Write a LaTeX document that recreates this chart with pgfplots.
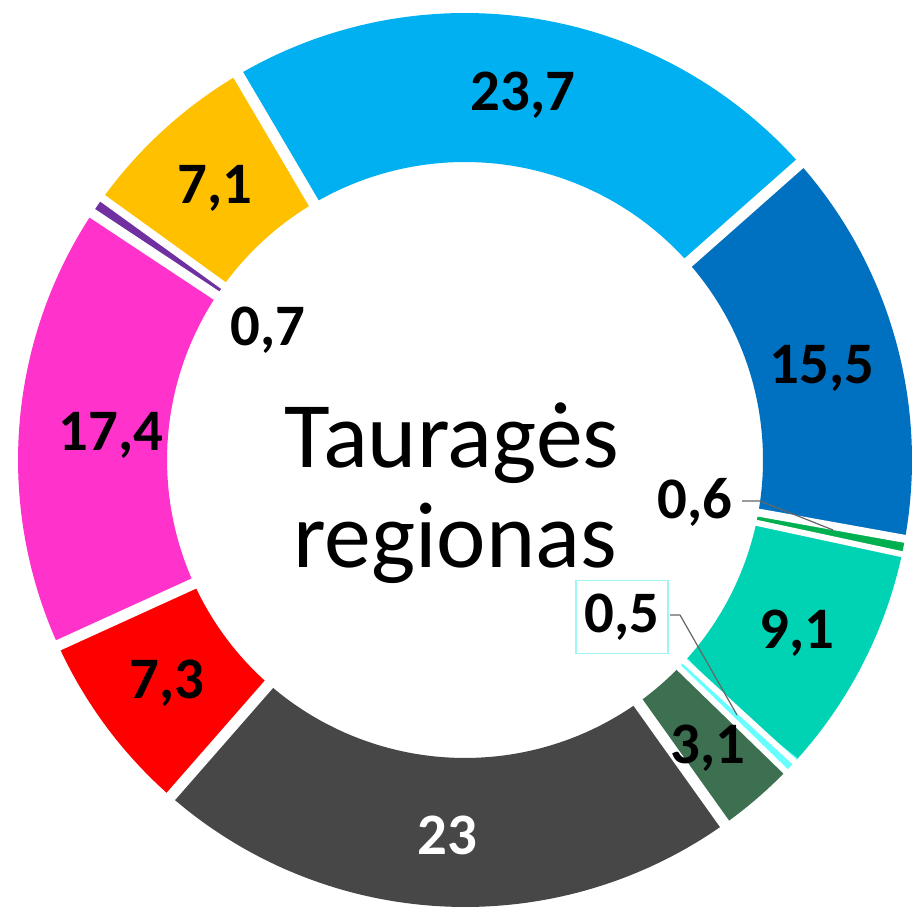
\documentclass[border=0pt]{standalone}
\usepackage{fontspec}
\setmainfont{Carlito}
\usepackage{pgfplots}
\pgfplotsset{compat=1.18}

\definecolor{cLightBlue}{HTML}{00B0F0}
\definecolor{cDarkBlue}{HTML}{0070C0}
\definecolor{cGreen}{HTML}{00B050}
\definecolor{cTeal}{HTML}{00D2B4}
\definecolor{cCyan}{HTML}{66FFFF}
\definecolor{cDarkGreen}{HTML}{3D7050}
\definecolor{cGray}{HTML}{474747}
\definecolor{cRed}{HTML}{FF0000}
\definecolor{cMagenta}{HTML}{FF33CC}
\definecolor{cPurple}{HTML}{7030A0}
\definecolor{cAmber}{HTML}{FFC000}
\definecolor{cBox}{HTML}{9FF5F5}

% running start angle of the next slice (degrees, clockwise)
\newcommand\acur{120.5}
\newcommand\total{108}
% #1 = value, #2 = colour, #3 = width of the white gap before this slice
\newcommand{\slice}[3]{%
  \pgfmathsetmacro{\aend}{\acur-#1*360/\total}%
  \edef\doplot{%
    \noexpand\addplot[draw=#2, line width=74.5bp, line join=round,
      domain=\aend:\acur, samples=90] ({0.8333*cos(x)},{0.8333*sin(x)});
    \noexpand\addplot[draw=white, line width=#3bp, domain=0.6:1.06, samples=2]
      ({x*cos(\acur)},{x*sin(\acur)});
  }%
  \doplot
  \xdef\acur{\aend}%
}
\newcommand\lbl{\bfseries\fontsize{29.5}{30}\selectfont}
\newcommand\ctr{\fontsize{47}{48}\selectfont}

\begin{document}
\begin{tikzpicture}
\begin{axis}[
  x=223.5bp, y=223.5bp,
  xmin=-1.0403, xmax=1.0246, ymin=-1.0336, ymax=1.0291,
  axis lines=box, axis line style={draw=none},
  xtick=\empty, ytick=\empty,
  no markers,
]
\slice{23.7}{cLightBlue}{5.5}
\slice{15.5}{cDarkBlue}{5.5}
\slice{0.6}{cGreen}{4}
\slice{9.1}{cTeal}{3}
\slice{0.5}{cCyan}{3}
\slice{3.1}{cDarkGreen}{3}
\slice{23}{cGray}{5.5}
\slice{7.3}{cRed}{5.5}
\slice{17.4}{cMagenta}{5.5}
\slice{0.7}{cPurple}{5}
\slice{7.1}{cAmber}{4}
% closing separator at the first slice's start
\addplot[draw=white, line width=5.5bp, domain=0.6:1.06, samples=2]
  ({x*cos(120.5)},{x*sin(120.5)});

% leader lines
\addplot[draw=black!60, line width=0.6bp] coordinates {(0.6197,-0.0917) (0.66,-0.0917) (0.8233,-0.1566)};
\addplot[draw=black!60, line width=0.6bp] coordinates {(0.4586,-0.3468) (0.481,-0.3468) (0.6085,-0.5705)};

% data labels
\node[font=\lbl] at (axis cs:0.1298,0.8166) {23,7};
\node[font=\lbl] at (axis cs:0.7987,0.2058) {15,5};
\node[font=\lbl] at (axis cs:0.5145,-0.094) {0,6};
\node[font=\lbl] at (axis cs:0.7427,-0.387) {9,1};
\node[font=\lbl, draw=cBox, line width=0.8bp, minimum width=46bp, minimum height=36.5bp, inner sep=0pt, fill=white] at (axis cs:0.3512,-0.3512) {0,5};
\node[font=\lbl] at (axis cs:0.5436,-0.6443) {3,1};
\node[font=\lbl, text=white] at (axis cs:-0.0403,-0.839) {23};
\node[font=\lbl] at (axis cs:-0.6667,-0.4989) {7,3};
\node[font=\lbl] at (axis cs:-0.7919,0.0559) {17,4};
\node[font=\lbl] at (axis cs:-0.4407,0.2908) {0,7};
\node[font=\lbl] at (axis cs:-0.5593,0.6085) {7,1};

% centre title
\node[font=\ctr, anchor=base] at (axis cs:-0.029,-0.0157) {Tauragės};
\node[font=\ctr, anchor=base] at (axis cs:-0.0224,-0.2416) {regionas};
\end{axis}
\end{tikzpicture}
\end{document}
